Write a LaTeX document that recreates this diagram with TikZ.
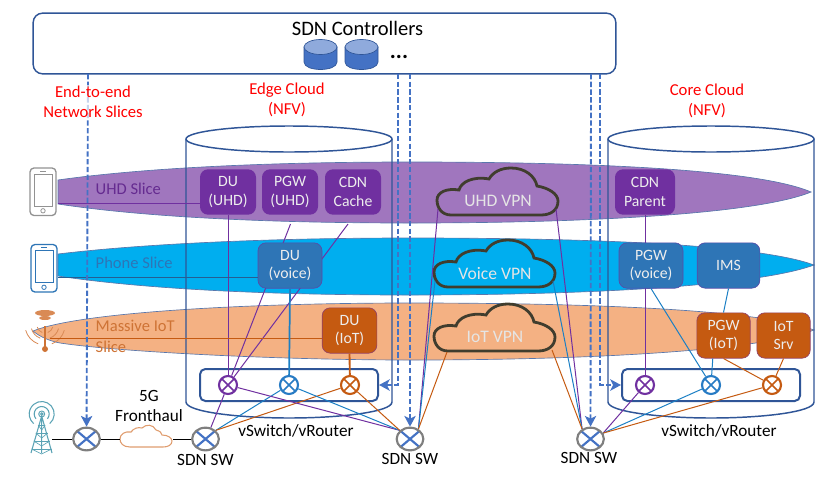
\documentclass[tikz,border=0pt]{standalone}
\usepackage{fontspec}
\setmainfont{Carlito}
\usetikzlibrary{arrows.meta,shapes.geometric}

\definecolor{ctrlblue}{HTML}{2F5597}
\definecolor{dashblue}{HTML}{4472C4}
\definecolor{uhdband}{HTML}{A076BE}
\definecolor{voiceband}{HTML}{00AEEF}
\definecolor{iotband}{HTML}{F4B183}
\definecolor{uhdpurple}{HTML}{7030A0}
\definecolor{voiceblue}{HTML}{2E75B6}
\definecolor{linkblue}{HTML}{1B7FC4}
\definecolor{iotorange}{HTML}{C55A11}
\definecolor{iconorange}{HTML}{D98A55}
\definecolor{towerteal}{HTML}{5BA3B5}
\definecolor{swgray}{HTML}{7F7F7F}

\tikzset{
  band/.style={draw=ctrlblue!80,line width=.5pt},
  rimline/.style={draw=ctrlblue,line width=1.1pt},
  vnfbox/.style={rounded corners=6pt,text=white!93!black,inner sep=0pt,align=center,
    font=\fontsize{11.8}{14}\selectfont,line width=.5pt,minimum height=34pt},
  uhdbox/.style={vnfbox,fill=uhdpurple},
  voicebox/.style={vnfbox,fill=voiceblue,draw=uhdpurple!60!voiceblue},
  iotbox/.style={vnfbox,fill=iotorange,draw=uhdpurple!60!iotorange},
  swbox/.style={draw=ctrlblue,line width=1.5pt,rounded corners=4pt,minimum height=24pt,minimum width=133.5pt,inner sep=0pt},
  vsw/.style={circle,draw=#1,fill=white,line width=1.6pt,minimum size=13.5pt,inner sep=0pt,
    path picture={\draw[#1,line width=1.1pt]
      (path picture bounding box.north west) -- (path picture bounding box.south east)
      (path picture bounding box.north east) -- (path picture bounding box.south west);}},
  sdnsw/.style={ellipse,draw=swgray,fill=white,line width=1.6pt,minimum width=20pt,minimum height=17pt,inner sep=0pt,
    path picture={\draw[dashblue,line width=1.6pt]
      (path picture bounding box.north west) -- (path picture bounding box.south east)
      (path picture bounding box.north east) -- (path picture bounding box.south west);}},
  ctrlline/.style={dashblue,line width=1.4pt,dash pattern=on 4pt off 1.8pt,-{Stealth[length=8pt,width=8.5pt,inset=2pt]}},
  pline/.style={uhdpurple,line width=.75pt},
  bline/.style={linkblue,line width=.75pt},
  oline/.style={iotorange,line width=.75pt},
  redlabel/.style={text=red,align=center,font=\fontsize{12.5}{15}\selectfont},
  blacklabel/.style={align=center,font=\fontsize{12.9}{15.3}\selectfont},
  slicelabel/.style={anchor=west,font=\fontsize{12.4}{15.7}\selectfont,align=left},
}

\newcommand{\vpncloud}[4]{
  \begin{scope}[shift={(#2,#3)}]
    \draw[draw=black!72!olive,line width=2.1pt] (14,47) .. controls (5,47) and (0,40) .. (0,32)
      .. controls (0,24) and (10,20) .. (22,22) .. controls (24,14) and (36,8) .. (52,11)
      .. controls (56,4) and (64,0) .. (74,0) .. controls (88,0) and (98,8) .. (100,18)
      .. controls (112,20) and (121,26) .. (121,33) .. controls (121,42) and (114,47) .. (104,47) -- cycle;
    \node[text=white!90!black,font=\fontsize{13.2}{15}\selectfont] (#1) at (61,33) {#4};
    \coordinate (#1l) at (1,41);
    \coordinate (#1r) at (119,41);
    \coordinate (#1bl) at (13,48);
    \coordinate (#1br) at (118,46);
  \end{scope}
}
\newcommand{\phoneicon}[3]{
  \begin{scope}[shift={(#1,#2)}]
    \draw[#3,line width=1pt,fill=white,rounded corners=3pt] (0,0) rectangle (26,47.5);
    \draw[#3,line width=.6pt] (4,6) rectangle (22,38);
    \draw[#3,line width=.6pt] (13,42.8) circle (2.2);
    \draw[#3,line width=.6pt] (10,3) -- (16,3);
  \end{scope}
}
\newcommand{\ctrldisk}[1]{
  \draw[ctrlblue,fill=dashblue,line width=.5pt] (#1-16.5,47) -- (#1-16.5,62)
    .. controls (#1-16.5,72) and (#1+16.5,72) .. (#1+16.5,62) -- (#1+16.5,47) -- cycle;
  \draw[ctrlblue,fill=dashblue!60!white,line width=.5pt] (#1,47) ellipse [x radius=16.5,y radius=7.5];
}

\begin{document}
\begin{tikzpicture}[x=.75pt,y=-.75pt]
  \useasboundingbox (0,0) rectangle (823,482);

  % slices
  \draw[band,fill=voiceband] (58,254) .. controls (150,243) and (280,238) .. (410,238)
    .. controls (600,238) and (760,245) .. (814,265) .. controls (760,285) and (600,295) .. (410,295)
    .. controls (280,295) and (150,290) .. (58,276) -- cycle;
  \draw[band,fill=iotband] (33,331) .. controls (80,312) and (250,303) .. (410,303)
    .. controls (600,303) and (760,310) .. (814,330) .. controls (760,350) and (600,360) .. (410,360)
    .. controls (280,360) and (120,352) .. (60,343) .. controls (50,341) and (40,337) .. (33,331) -- cycle;
  \draw[band,fill=uhdband] (58,180) .. controls (150,167) and (280,162) .. (410,162)
    .. controls (600,162) and (760,170) .. (811,192) .. controls (760,213) and (600,223) .. (410,223)
    .. controls (280,223) and (150,218) .. (58,204) -- cycle;

  % clouds
  \draw[rimline] (186,139) -- (186,402) .. controls (186,412) and (240,418) .. (289,418)
    .. controls (340,418) and (392,412) .. (392,402) -- (392,139);
  \draw[rimline] (289,139) ellipse [x radius=103,y radius=13];
  \draw[rimline] (608,139) -- (608,402) .. controls (608,412) and (662,418) .. (711,418)
    .. controls (762,418) and (814,412) .. (814,402) -- (814,139);
  \draw[rimline] (711,139) ellipse [x radius=103,y radius=13];

  \node[slicelabel,text=uhdpurple!90!black] (uhdlabel) at (91,189) {UHD Slice};
  \node[slicelabel,text=voiceblue] (voicelabel) at (91,263) {Phone Slice};
  \node[slicelabel,text=iotorange!85!white] (iotlabel) at (91,336) {Massive IoT\\Slice};

  \node[swbox] (edgebox) at (289,385) {};
  \node[swbox] (corebox) at (711,385) {};

  \node[vsw=uhdpurple] (pea) at (228,385) {};
  \node[vsw=linkblue!70!dashblue] (peb) at (289,385) {};
  \node[vsw=iotorange] (pec) at (350,385) {};
  \node[vsw=uhdpurple] (pfa) at (645,385) {};
  \node[vsw=linkblue!70!dashblue] (pfb) at (711,385) {};
  \node[vsw=iotorange] (pfc) at (772,385) {};

  \node[sdnsw] (swa) at (86.5,439) {};
  \node[sdnsw] (swb) at (205.5,439) {};
  \node[sdnsw] (swc) at (410,439) {};
  \node[sdnsw] (swd) at (590.5,439) {};

  \vpncloud{uhdvpn}{437}{168}{UHD VPN}
  \vpncloud{voicevpn}{434}{240}{Voice VPN}
  \vpncloud{iotvpn}{434}{304}{IoT VPN}

  \phoneicon{30}{168}{swgray!85!white}
  \phoneicon{31}{244.5}{voiceblue}
  \coordinate (uhdtip) at (58,203);
  \coordinate (voicetip) at (58,277);
  \coordinate (iottip) at (50,338);

  % antenna
  \fill[iconorange] (45,313) ellipse [x radius=10,y radius=3];
  \fill[iconorange] (45,318) ellipse [x radius=6,y radius=2];
  \draw[iotorange!85!white,line width=1.5pt] (45,326) -- (45,348);
  \fill[iotorange!85!white] (45,349) circle (3);
  \foreach \r in {8,14,20} {
    \draw[iconorange,line width=.6pt] (45,325) ++(110:\r) arc(110:165:\r);
    \draw[iconorange,line width=.6pt] (45,325) ++(15:\r) arc(15:70:\r);
  }

  % tower
  \draw[towerteal,line width=.7pt] (41.7,414) circle (3) (41.7,414) circle (1.2);
  \draw[towerteal,line width=.8pt] (41.7,414) ++(40:7.5) arc(40:-220:7.5);
  \draw[towerteal,line width=.8pt] (41.7,414) ++(50:12.5) arc(50:-230:12.5);
  \draw[towerteal,line width=.8pt] (31,453) -- (41.7,416) -- (52,453) (41.7,416) -- (41.7,453);
  \foreach \h/\w in {425/3.5,433/6,441/8,449/10} {
    \draw[towerteal,line width=.6pt] (41.7-\w,\h) -- (41.7+\w,\h);
    \draw[towerteal,line width=.5pt] (41.7-\w,\h) -- (41.7,\h+5) -- (41.7+\w,\h);
  }
  \coordinate (towerend) at (52,439);

  % fronthaul
  \draw[iconorange!85!white,line width=.8pt] (130,447) .. controls (123,447) and (120,443) .. (120,439)
    .. controls (120,434) and (125,431) .. (131,432) .. controls (134,428) and (138,427) .. (142,428)
    .. controls (146,424) and (153,424) .. (156,430) .. controls (160,431) and (162,433) .. (162,435)
    .. controls (168,435) and (172,438) .. (172,441) .. controls (172,445) and (168,447) .. (163,447) -- cycle;
  \coordinate (fronta) at (120,439);
  \coordinate (frontb) at (173,439);
  \draw[line width=.75pt] (towerend) -- (swa);
  \draw[line width=.75pt] (swa) -- (fronta);
  \draw[line width=.75pt] (frontb) -- (swb);

  % boxes
  \node[uhdbox,minimum width=42pt] (duuhd) at (228,192) {DU\\(UHD)};
  \node[uhdbox,minimum width=42pt] (pgwuhd) at (290,192) {PGW\\(UHD)};
  \node[uhdbox,minimum width=42pt] (cdncache) at (353,192) {CDN\\Cache};
  \node[uhdbox,minimum width=45pt] (cdnparent) at (645,192) {CDN\\Parent};
  \coordinate (pgwuhdlow) at (290.5,224);
  \coordinate (cdncachelow) at (348,224);

  \draw[pline] (uhdtip) -- (duuhd.west |- uhdtip);
  \draw[pline] (duuhd.south) -- (pea);
  \draw[pline] (pgwuhdlow) -- (pea);
  \draw[pline] (cdncachelow) -- (pea);
  \draw[pline] (cdnparent.south) -- (pfa);
  \draw[pline] (pea) -- (swb.65);
  \draw[bline] (peb) -- (swb.40);
  \draw[oline] (pec) -- (swb.40);
  \draw[pline] (pea) -- (swc.140);
  \draw[bline] (peb) -- (swc.140);
  \draw[oline] (pec) -- (swc.140);

  \draw[pline] (uhdvpnl) -- (swc.50);
  \draw[bline] (voicevpnl) -- (swc.50);
  \draw[oline] (iotvpnbl) -- (swc.50);
  \draw[pline] (uhdvpnr) -- (swd.130);
  \draw[bline] (voicevpnr) -- (swd.130);
  \draw[oline] (iotvpnbr) -- (swd.130);

  \draw[pline] (pfa) -- (swd.25);
  \draw[bline] (pfb) -- (swd.25);
  \draw[oline] (pfc) -- (swd.25);

  \node[voicebox,minimum width=48pt] (duvoice) at (290,265.5) {DU\\(voice)};
  \node[voicebox,minimum width=48pt] (pgwvoice) at (651,265.5) {PGW\\(voice)};
  \node[voicebox,minimum width=47pt] (ims) at (728.5,265.5) {IMS};
  \node[iotbox,minimum width=41pt] (duiot) at (349.5,330.5) {DU\\(IoT)};
  \node[iotbox,minimum width=40pt] (pgwiot) at (723.5,335.5) {PGW\\(IoT)};
  \node[iotbox,minimum width=40pt] (iotsrv) at (783.5,335.5) {IoT\\Srv};

  \draw[voiceblue!80!black,line width=.75pt] (voicetip) -- (duvoice.west |- voicetip);
  \draw[oline] (iottip) -- (duiot.west |- iottip);
  \draw[bline,line width=1.3pt] (duvoice.south) -- (peb);
  \draw[iotorange,line width=1.4pt] (duiot.south) -- (pec);
  \draw[bline] (pgwvoice.south) -- (pfb);
  \draw[bline] (ims.south) -- (pgwiot.north);
  \draw[bline] (pgwiot.-115) -- (pfb);
  \draw[oline] (pgwiot.south) -- (pfc);
  \draw[oline] (iotsrv.south) -- (pfc);

  % controllers
  \node[draw=ctrlblue,line width=1.1pt,rounded corners=7pt,minimum width=437pt,minimum height=45.5pt,inner sep=0pt] (ctrl) at (324.5,43.5) {};
  \node[inner sep=0pt,font=\fontsize{15.4}{18}\selectfont] (ctrltitle) at (357.5,28.5) {SDN Controllers};
  \ctrldisk{320.5}
  \ctrldisk{361.5}
  \node[inner sep=0pt,text height=3pt,text depth=0pt,font=\bfseries\fontsize{17}{18}\selectfont] (ctrldots) at (399,56) {...};

  \coordinate (ctrla) at (88,74);
  \coordinate (ctrlb) at (398,74);
  \coordinate (ctrlc) at (410,74);
  \coordinate (ctrld) at (600,74);
  \coordinate (ctrle) at (591,74);
  \draw[ctrlline] (ctrla) -- (swa);
  \draw[ctrlline] (ctrlb) |- (edgebox.east);
  \draw[ctrlline] (ctrlc) -- (swc);
  \draw[ctrlline] (ctrld) |- (corebox.west);
  \draw[ctrlline] (ctrle) -- (swd);

  % labels
  \node[redlabel,fill=white,fill opacity=.7,text opacity=1,inner sep=1pt] (slices) at (93,102) {End-to-end\\Network Slices};
  \node[redlabel] (edgename) at (287,100) {Edge Cloud\\(NFV)};
  \node[redlabel] (corename) at (707,101) {Core Cloud\\(NFV)};
  \node[blacklabel] (fronthaul) at (149,406) {5G\\Fronthaul};
  \node[blacklabel] (swblabel) at (205.5,460) {SDN SW};
  \node[blacklabel] (swclabel) at (410,459) {SDN SW};
  \node[blacklabel] (swdlabel) at (589,458) {SDN SW};
  \node[blacklabel] (edgevsw) at (296,431) {vSwitch/vRouter};
  \node[blacklabel] (corevsw) at (719,431) {vSwitch/vRouter};
\end{tikzpicture}
\end{document}
